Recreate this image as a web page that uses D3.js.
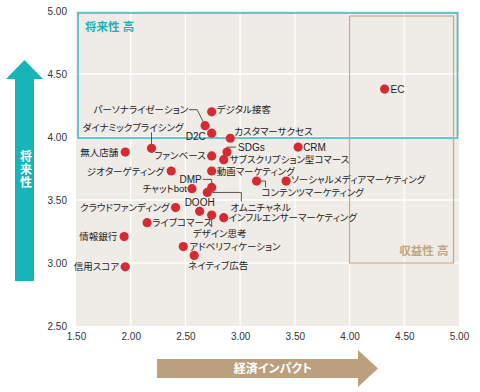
<!DOCTYPE html>
<html><head><meta charset="utf-8">
<script src="https://cdn.jsdelivr.net/npm/d3@7"></script>
<style>
html,body{margin:0;padding:0;background:#fff;}
svg text{font-family:"Liberation Sans","Noto Sans CJK JP",sans-serif;font-feature-settings:"palt";}
</style></head>
<body><svg id="c" width="480" height="392"></svg>
<script>
// ---- data ----
const names = ["EC","デジタル接客","パーソナライゼーション","D2C","カスタマーサクセス","ダイナミックプライシング","無人店舗","ファンベース","SDGs","サブスクリプション型コマース","CRM","ジオターゲティング","動画マーケティング","ソーシャルメディアマーケティング","コンテンツマーケティング","DMP","チャットbot","オムニチャネル","DOOH","クラウドファンディング","デザイン思考","インフルエンサーマーケティング","ライブコマース","情報銀行","アドベリフィケーション","ネイティブ広告","信用スコア"];
const impact = [4.32,2.74,2.68,2.74,2.91,2.19,1.95,2.74,2.88,2.85,3.53,2.37,2.74,3.42,3.15,2.74,2.56,2.70,2.63,2.41,2.74,2.85,2.15,1.94,2.48,2.58,1.95];
const future = [4.38,4.20,4.09,4.03,3.99,3.91,3.88,3.85,3.88,3.82,3.92,3.73,3.73,3.65,3.65,3.60,3.59,3.56,3.41,3.44,3.38,3.36,3.32,3.21,3.13,3.06,2.97];
const xTicks = [1.5,2.0,2.5,3.0,3.5,4.0,4.5,5.0];
const yTicks = [2.5,3.0,3.5,4.0,4.5,5.0];
const xTitle = "経済インパクト";
const yTitle = "将来性";
const zoneFuture = "将来性 高";
const zoneProfit = "収益性 高";

// ---- label layout (pixel offsets relative to point) ----
const labelLayout = {
  "EC":{dx:6,dy:0,a:"start"},
  "デジタル接客":{dx:5,dy:-2,a:"start"},
  "パーソナライゼーション":{dx:-17,dy:-16,a:"end",lead:[[-16,-16],[-8,-16],[-2,-4]]},
  "D2C":{dx:-6,dy:3,a:"end"},
  "カスタマーサクセス":{dx:4,dy:-7,a:"start"},
  "ダイナミックプライシング":{dx:32,dy:-21,a:"end",lead:[[0,-16],[0,-4]]},
  "無人店舗":{dx:-7,dy:0,a:"end"},
  "ファンベース":{dx:-6,dy:0,a:"end"},
  "SDGs":{dx:11,dy:-5,a:"start",lead:[[0,-3],[0,-5],[9,-5]]},
  "サブスクリプション型コマース":{dx:6,dy:0,a:"start"},
  "CRM":{dx:5,dy:0,a:"start"},
  "ジオターゲティング":{dx:-7,dy:0,a:"end"},
  "動画マーケティング":{dx:5,dy:0,a:"start"},
  "ソーシャルメディアマーケティング":{dx:5,dy:-2,a:"start"},
  "コンテンツマーケティング":{dx:5,dy:11,a:"start",lead:[[4,0],[9,0],[9,6]]},
  "DMP":{dx:-10,dy:-8,a:"end",lead:[[-9,-8],[0,-8],[0,-4]]},
  "チャットbot":{dx:-5,dy:0,a:"end"},
  "オムニチャネル":{dx:23,dy:15,a:"start",lead:[[5,0],[34,0],[34,9]]},
  "DOOH":{dx:0,dy:-9,a:"middle"},
  "クラウドファンディング":{dx:-6,dy:0,a:"end"},
  "デザイン思考":{dx:8,dy:18,a:"middle",lead:[[0,4],[0,12]]},
  "インフルエンサーマーケティング":{dx:5,dy:0,a:"start"},
  "ライブコマース":{dx:5,dy:0,a:"start"},
  "情報銀行":{dx:-7,dy:0,a:"end"},
  "アドベリフィケーション":{dx:6,dy:0,a:"start"},
  "ネイティブ広告":{dx:24,dy:10,a:"middle"},
  "信用スコア":{dx:-6,dy:0,a:"end"}
};

const svg = d3.select("#c");
const x = d3.scaleLinear().domain([1.5,5]).range([76,459]);
const y = d3.scaleLinear().domain([2.5,5]).range([326,11]);

// background
svg.append("rect").attr("x",x(1.5)).attr("y",y(5)).attr("width",x(5)-x(1.5)).attr("height",y(2.5)-y(5)).attr("fill","#efebe6");
// grid
svg.append("g").selectAll("line").data(xTicks.slice(1,-1)).join("line")
  .attr("x1",d=>x(d)).attr("x2",d=>x(d)).attr("y1",y(5)).attr("y2",y(2.5))
  .attr("stroke","#fff").attr("stroke-width",1.3);
svg.append("g").selectAll("line").data(yTicks.slice(1,-1)).join("line")
  .attr("x1",x(1.5)).attr("x2",x(5)).attr("y1",d=>y(d)).attr("y2",d=>y(d))
  .attr("stroke","#fff").attr("stroke-width",1.3);

// zones
svg.append("rect").attr("x",x(1.5)+2).attr("y",y(5)+2).attr("width",x(5)-x(1.5)-3.5).attr("height",y(4)-y(5)-1)
  .attr("fill","none").attr("stroke","#3ec0c5").attr("stroke-width",1.6);
svg.append("rect").attr("x",x(4.0)).attr("y",y(4.96)).attr("width",x(4.95)-x(4.0)).attr("height",y(3.0)-y(4.96))
  .attr("fill","none").attr("stroke","#c7a888").attr("stroke-width",1.2);
svg.append("text").attr("x",x(1.5)+9).attr("y",y(5)+20).text(zoneFuture)
  .attr("fill","#19b2b8").attr("font-size",11.5).attr("font-weight","bold");
svg.append("text").attr("x",x(4.95)-5).attr("y",y(3.0)-8).attr("text-anchor","end").text(zoneProfit)
  .attr("fill","#c4a47f").attr("font-size",11.5).attr("font-weight","bold");

// axes
const xa = svg.append("g").attr("transform",`translate(0,${y(2.5)+4})`)
  .call(d3.axisBottom(x).tickValues(xTicks).tickFormat(d3.format(".2f")).tickSize(0));
xa.select(".domain").remove();
xa.selectAll("text").attr("font-size",10).attr("fill","#333").attr("font-family",null);
const ya = svg.append("g").attr("transform",`translate(${x(1.5)-1},0)`)
  .call(d3.axisLeft(y).tickValues(yTicks).tickFormat(d3.format(".2f")).tickSize(0).tickPadding(8));
ya.select(".domain").remove();
ya.selectAll("text").attr("font-size",10).attr("fill","#333").attr("font-family",null);

// leader lines
const pts = names.map((n,i)=>({name:n,px:x(impact[i]),py:y(future[i]),L:labelLayout[n]}));
svg.append("g").selectAll("polyline").data(pts.filter(p=>p.L.lead)).join("polyline")
  .attr("points",p=>p.L.lead.map(q=>[p.px+q[0],p.py+q[1]].join(",")).join(" "))
  .attr("fill","none").attr("stroke","#444").attr("stroke-width",0.9);

// points
svg.append("g").selectAll("circle").data(pts).join("circle")
  .attr("cx",p=>p.px).attr("cy",p=>p.py).attr("r",4.6).attr("fill","#d52a32");

// labels
svg.append("g").selectAll("text").data(pts).join("text")
  .attr("x",p=>p.px+p.L.dx).attr("y",p=>p.py+p.L.dy)
  .attr("text-anchor",p=>p.L.a).attr("dominant-baseline","central")
  .attr("font-size",p=>/^[A-Z0-9]+[a-z]*$/.test(p.name)?10:9.5).attr("fill","#222")
  .text(p=>p.name);

// left arrow (teal)
const ga = svg.append("g");
ga.append("path").attr("d","M15,281 L15,79 L6,79 L24.5,60 L43,79 L34,79 L34,281 Z").attr("fill","#17b4ba");
ga.append("text").attr("x",24.5).attr("y",150).attr("fill","#fff").attr("font-size",12).attr("font-weight","bold")
  .attr("text-anchor","start").attr("writing-mode","tb").attr("letter-spacing",1).text(yTitle);
// bottom arrow (brown)
ga.append("path").attr("d","M157,359 L358,359 L358,350 L378,368.5 L358,387 L358,378 L157,378 Z").attr("fill","#bb9f7f");
ga.append("text").attr("x",273).attr("y",369).attr("fill","#fff").attr("font-size",12).attr("font-weight","bold")
  .attr("text-anchor","middle").attr("dominant-baseline","central").text(xTitle);
</script></body></html>
